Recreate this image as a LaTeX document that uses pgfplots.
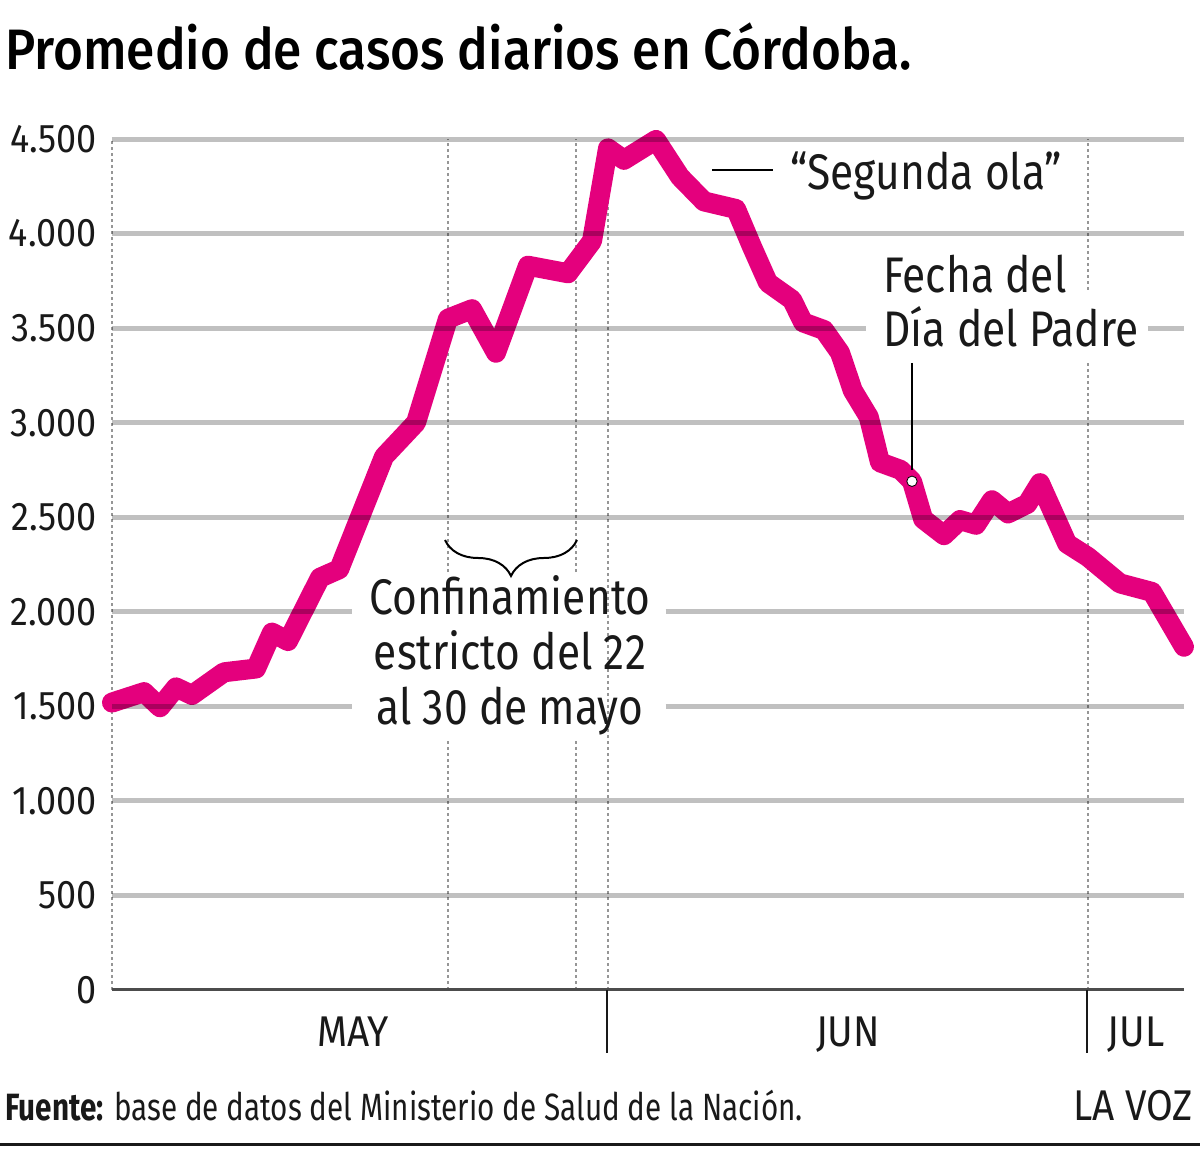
\documentclass[border=0pt]{standalone}
\usepackage{fontspec}
\usepackage{pgfplots}
\pgfplotsset{compat=1.18}
\usetikzlibrary{decorations.pathreplacing}
\setmainfont{Fira Sans}[FakeStretch=0.9]
\newfontfamily\titlefont{Fira Sans Medium}[FakeStretch=0.9]
\newfontfamily\annfont{Fira Sans}[FakeStretch=0.85]
\newfontfamily\footfont{Fira Sans}[FakeStretch=0.78]
\definecolor{pinkline}{RGB}{228,0,125}
\definecolor{gridgray}{RGB}{192,192,192}
\definecolor{dotgray}{RGB}{150,150,150}
\definecolor{txt}{RGB}{25,25,25}
\begin{document}
\begin{tikzpicture}
\useasboundingbox (-56pt,-85.5pt) rectangle (544pt,495pt);
\begin{axis}[
  at={(0pt,0pt)}, anchor=south west,
  scale only axis, width=536pt, height=425.5pt,
  xmin=0, xmax=67, ymin=0, ymax=4500,
  clip=false,
  axis line style={draw=none},
  xtick=\empty,
  ytick={0,500,...,4500},
  major tick length=0pt,
  yticklabel style={font=\fontsize{20}{20}\selectfont, text=txt, anchor=east, inner sep=0pt, xshift=-7.5pt},
  /pgf/number format/1000 sep={.},
  /pgf/number format/assume math mode=true,
]
% dotted verticals
\draw[dotgray, line width=1pt, dash pattern=on 1.5pt off 1.5pt] (axis cs:0,0) -- (axis cs:0,4500);
\draw[dotgray, line width=1pt, dash pattern=on 1.5pt off 1.5pt] (axis cs:31,0) -- (axis cs:31,4500);
\draw[dotgray, line width=1pt, dash pattern=on 1.5pt off 1.5pt] (axis cs:21,0) -- (axis cs:21,1322);
\draw[dotgray, line width=1pt, dash pattern=on 1.5pt off 1.5pt] (axis cs:21,2210) -- (axis cs:21,4500);
\draw[dotgray, line width=1pt, dash pattern=on 1.5pt off 1.5pt] (axis cs:29,0) -- (axis cs:29,1322);
\draw[dotgray, line width=1pt, dash pattern=on 1.5pt off 1.5pt] (axis cs:29,2210) -- (axis cs:29,4500);
\draw[dotgray, line width=1pt, dash pattern=on 1.5pt off 1.5pt] (axis cs:61,0) -- (axis cs:61,3321);
\draw[dotgray, line width=1pt, dash pattern=on 1.5pt off 1.5pt] (axis cs:61,3702) -- (axis cs:61,4500);
% base line
\draw[black!70, line width=1.5pt] (axis cs:0,0) -- (axis cs:67,0);
% data
\addplot[pinkline, line width=10pt, line join=round, line cap=round, mark=none] coordinates {
(0,1520) (2,1575) (3,1495) (4,1600) (5,1560) (7,1680) (9,1700) (10,1890) (11,1845)
(13,2180) (14.2,2225) (17,2820) (19,3000) (21,3550) (22.5,3600) (24,3370) (26,3830)
(28.5,3790) (30,3960) (31,4450) (32,4390) (34,4495) (35.5,4300) (37,4170) (39,4130)
(40,3930) (41,3740) (42.5,3650) (43.2,3530) (44.5,3490) (45.5,3370) (46.3,3170)
(47.3,3030) (48,2790) (49.3,2750) (50,2690) (50.7,2490) (52,2405) (53,2485) (54,2460)
(55,2590) (56,2520) (57.2,2570) (58,2680) (59.7,2360) (61,2290) (63,2150) (65,2105) (67,1815)
};
% grid lines, multiplied over the curve
\begin{scope}[blend mode=multiply]
\foreach \v in {500,1000,2500,3000,4000,4500}{
  \edef\tmp{\noexpand\draw[gridgray, line width=2.5pt] (axis cs:0,\v) -- (axis cs:67,\v);}\tmp
}
\draw[gridgray, line width=2.5pt] (axis cs:0,3500) -- (axis cs:47.1,3500);
\draw[gridgray, line width=2.5pt] (axis cs:64.75,3500) -- (axis cs:67,3500);
\draw[gridgray, line width=2.5pt] (axis cs:0,2000) -- (axis cs:15,2000);
\draw[gridgray, line width=2.5pt] (axis cs:34.6,2000) -- (axis cs:67,2000);
\draw[gridgray, line width=2.5pt] (axis cs:0,1500) -- (axis cs:15,1500);
\draw[gridgray, line width=2.5pt] (axis cs:34.6,1500) -- (axis cs:67,1500);
\end{scope}
\addplot[only marks, mark=*, mark size=2.6pt, mark options={fill=white, draw=none}] coordinates {(50,2690)};
\end{axis}
% month separators and labels
\draw[txt, line width=0.8pt] (247.5pt,0pt) -- (247.5pt,-31.5pt);
\draw[txt, line width=0.8pt] (487.5pt,0pt) -- (487.5pt,-31.5pt);
\node[anchor=base, inner sep=0pt, text=txt, font=\fontsize{21.5}{21.5}\selectfont] at (120.5pt,-28.5pt) {MAY};
\node[anchor=base, inner sep=0pt, text=txt, font=\fontsize{21.5}{21.5}\selectfont] at (368pt,-28.5pt) {JUN};
\node[anchor=base, inner sep=0pt, text=txt, font=\fontsize{21.5}{21.5}\selectfont] at (512pt,-28.5pt) {JUL};
% title
\node[anchor=base west, inner sep=0pt, text=black, font=\titlefont\fontsize{28.5}{28.5}\selectfont] at (-53.5pt,460pt) {Promedio de casos diarios en Córdoba.};
% annotations
\draw[black, line width=1pt] (300pt,410pt) -- (330.5pt,410pt);
\node[anchor=base west, inner sep=0pt, text=txt, font=\annfont\fontsize{25}{25}\selectfont] at (339pt,400pt) {“Segunda ola”};
\node[anchor=base west, inner sep=0pt, text=txt, font=\annfont\fontsize{25}{25}\selectfont] at (385.5pt,348.5pt) {Fecha del};
\node[anchor=base west, inner sep=0pt, text=txt, font=\annfont\fontsize{25}{25}\selectfont] at (385.5pt,321.5pt) {Día del Padre};
\draw[black, line width=1pt] (400pt,313.5pt) -- (400pt,260pt);
\draw[black, line width=1pt, decorate, decoration={brace, mirror, amplitude=18pt}] (166.5pt,225pt) -- (232.5pt,225pt);
\node[anchor=base, inner sep=0pt, text=txt, font=\annfont\fontsize{25}{25}\selectfont] at (199pt,187.5pt) {Confinamiento};
\node[anchor=base, inner sep=0pt, text=txt, font=\annfont\fontsize{25}{25}\selectfont] at (199pt,160pt) {estricto del 22};
\node[anchor=base, inner sep=0pt, text=txt, font=\annfont\fontsize{25}{25}\selectfont] at (199pt,132.5pt) {al 30 de mayo};
% footer
\node[anchor=base west, inner sep=0pt, text=txt, font=\footfont\fontsize{19}{19}\selectfont] at (-53.5pt,-65.5pt) {\textbf{Fuente:} base de datos del Ministerio de Salud de la Nación.};
\node[anchor=base east, inner sep=0pt, text=txt, font=\fontsize{21.5}{21.5}\selectfont] at (540.5pt,-65.5pt) {LA VOZ};
\draw[txt, line width=1.5pt] (-56pt,-77.5pt) -- (544pt,-77.5pt);
\end{tikzpicture}
\end{document}
